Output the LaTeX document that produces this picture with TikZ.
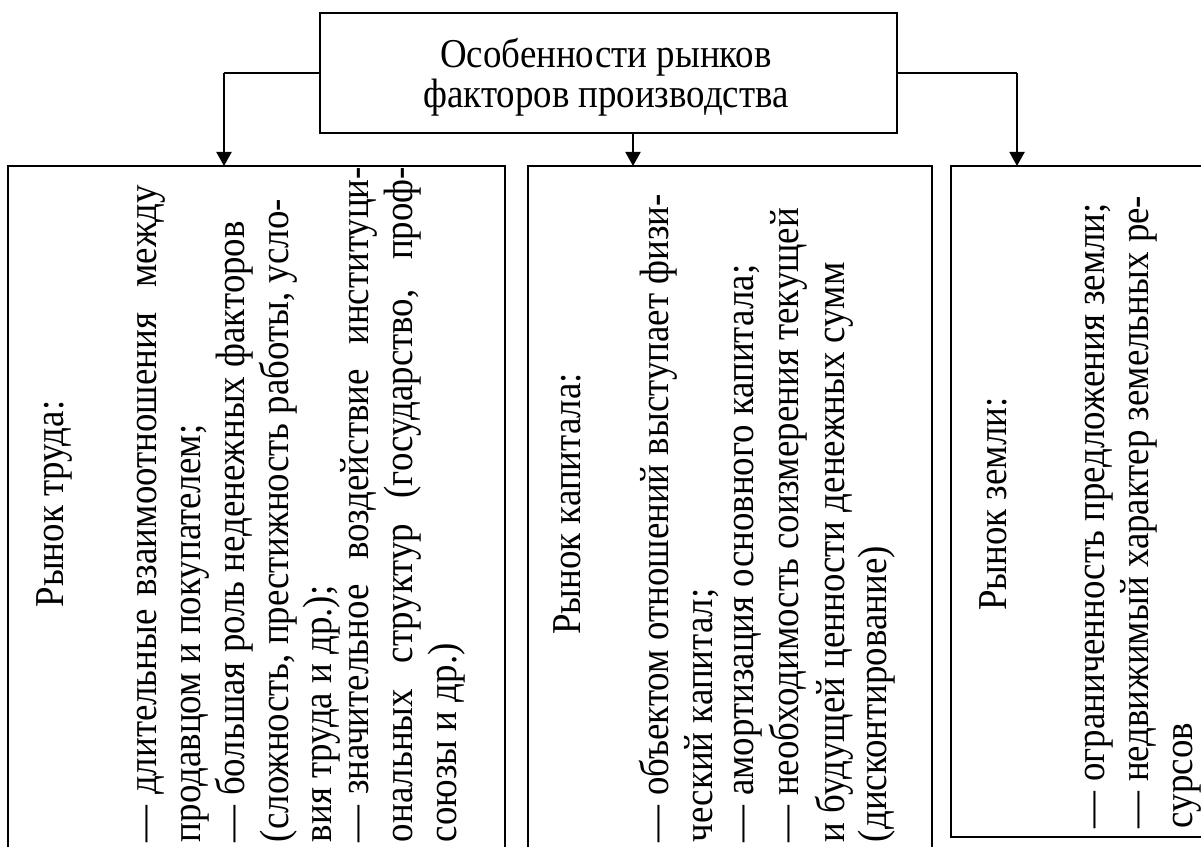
\documentclass[tikz,border=0pt]{standalone}
\usepackage{fontspec}
\setmainfont{Liberation Serif}[FakeStretch=0.9]
\usetikzlibrary{arrows.meta}
\begin{document}
\begin{tikzpicture}[x=1pt,y=1pt,
  box/.style={draw, line width=1.6pt, inner sep=0pt, outer sep=0pt, rectangle},
  hline/.style={line width=1.3pt},
  arr/.style={line width=2pt, -{Triangle[length=14pt,width=15pt]}},
  txt/.style={font=\fontsize{41}{44}\selectfont, inner sep=0pt, outer sep=0pt},
  vt/.style={txt, rotate=90, anchor=base west},
  vh/.style={txt, rotate=90, anchor=base}]
\useasboundingbox (0,0) rectangle (1201,846);
\clip (0,0) rectangle (1201,846);

% boxes
\node[box, minimum width=577pt, minimum height=120pt] (top) at (608.5,773) {};
\node[box, anchor=north west, minimum width=497pt, minimum height=720pt] (lbox) at (8,680) {};
\node[box, anchor=north west, minimum width=404pt, minimum height=720pt] (mbox) at (528,680) {};
\node[box, anchor=north west, minimum width=280pt, minimum height=671pt] (rbox) at (951,680) {};

% top text
\node[txt, anchor=base] (t1) at (606,778) {Особенности рынков};
\node[txt, anchor=base] (t2) at (606,738) {факторов производства};

% connectors
\coordinate (lt) at ([xshift=216pt]lbox.north west);
\coordinate (rt) at ([xshift=66pt]rbox.north west);
\coordinate (lc) at (lt |- top.west);
\coordinate (rc) at (rt |- top.east);
\draw[hline] (top.west) -- (lc);
\draw[arr] (lc) -- (lt);
\draw[hline] (top.east) -- (rc);
\draw[arr] (rc) -- (rt);
\draw[arr] ([xshift=24.5pt]top.south) -- ([xshift=24.5pt]top.south |- mbox.north);

% left box text
\node[vh] (lh) at (63,342) {Рынок труда:};
\node[vt] (l1) at (156,4) {\makebox[657pt][s]{—\hspace{0.25em}длительные взаимоотношения\ \ между}};
\node[vt] (l2) at (200,4) {продавцом и покупателем;};
\node[vt] (l3) at (244,4) {— большая роль неденежных факторов};
\node[vt] (l4) at (288,4) {(сложность, престижность работы, усло-};
\node[vt] (l5) at (331,4) {вия труда и др.);};
\node[vt] (l6) at (368,4) {\makebox[675pt][s]{—\hspace{0.25em}значительное воздействие институци-}};
\node[vt] (l7) at (412,4) {\makebox[675pt][s]{ональных структур (государство, проф-}};
\node[vt] (l8) at (456,4) {союзы и др.)};

% middle box text
\node[vh] (mh) at (580,342) {Рынок капитала:};
\node[vt] (m1) at (668,4) {— объектом отношений выступает физи-};
\node[vt] (m2) at (712,4) {ческий капитал;};
\node[vt] (m3) at (753,4) {— амортизация основного капитала;};
\node[vt] (m4) at (798,4) {— необходимость соизмерения текущей};
\node[vt] (m5) at (844,4) {и будущей ценности денежных сумм};
\node[vt] (m6) at (886,4) {(дисконтирование)};

% right box text
\node[vh] (rh) at (1006,342) {Рынок земли:};
\node[vt] (r1) at (1104,18) {— ограниченность предложения земли;};
\node[vt] (r2) at (1148,18) {— недвижимый характер земельных ре-};
\node[vt] (r3) at (1192,18) {сурсов};
\end{tikzpicture}
\end{document}
